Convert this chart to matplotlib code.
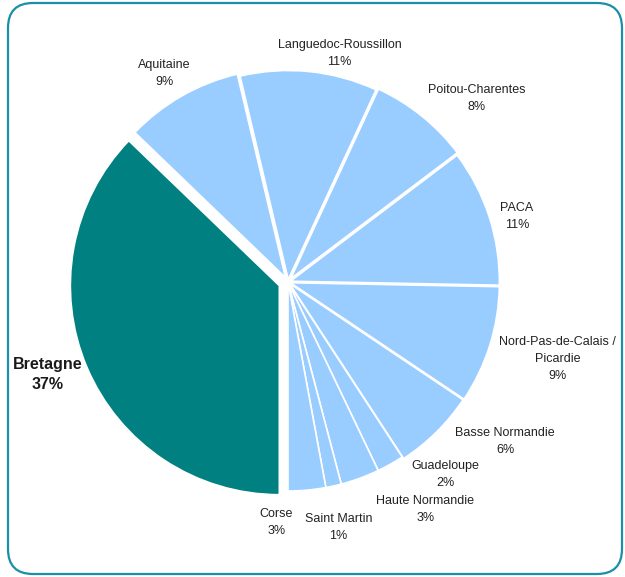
import numpy as np
import matplotlib.pyplot as plt
from matplotlib.patches import FancyBboxPatch

# donnees (ordre horaire depuis 6 heures)
regions = ['Bretagne', 'Aquitaine', 'Languedoc-Roussillon', 'Poitou-Charentes',
           'PACA', 'Nord-Pas-de-Calais /\nPicardie', 'Basse Normandie',
           'Guadeloupe', 'Haute Normandie', 'Saint Martin', 'Corse']
parts = [37.2, 9.1, 10.6, 7.8, 10.6, 9.1, 6.4, 2.1, 3.0, 1.2, 2.9]
labels_pct = ['37%', '9%', '11%', '8%', '11%', '9%', '6%', '2%', '3%', '1%', '3%']

# mise en page des etiquettes: (decalage d'angle en degres, rayon)
label_layout = [(2, 1.23), (-1, 1.16), (7, 1.12), (7, 1.26), (2, 1.14),
                (-1.5, 1.34), (-9, 1.29), (-10, 1.19), (-11, 1.27),
                (1, 1.2), (8, 1.15)]
explode = [0.045, 0.025, 0.012, 0.02, 0.012, 0.012, 0.01, 0.0, 0.0, 0.0, 0.0]

plt.rcParams['font.family'] = ['Liberation Sans', 'DejaVu Sans']

fig = plt.figure(figsize=(6.25, 5.77), dpi=100)
ax = fig.add_axes([0, 0, 1, 1])

colors = ['#008080'] + ['#99CCFF'] * (len(parts) - 1)
wedges, _ = ax.pie(parts, colors=colors, startangle=-90, counterclock=False,
                   explode=explode,
                   wedgeprops=dict(edgecolor='white', linewidth=1.2))

# etiquettes
total = sum(parts)
start = 180.0
for i, (name, p) in enumerate(zip(regions, parts)):
    span = p / total * 360
    mid = start + span / 2
    start += span
    da, r = label_layout[i]
    a = np.radians(mid + da)
    x, y = r * np.sin(a), r * np.cos(a)
    if i == 0:
        ax.text(x, y, name + '\n' + labels_pct[i], ha='center', va='center',
                fontsize=11.5, fontweight='bold', color='#1a1a1a', linespacing=1.4)
    else:
        ax.text(x, y, name + '\n' + labels_pct[i], ha='center', va='center',
                fontsize=9, color='#222222', linespacing=1.55)

# axes: centre a (288, 282) px, rayon 209 px
ax.set_xlim(-288 / 209, (625 - 288) / 209)
ax.set_ylim(-(577 - 282) / 209, 282 / 209)
ax.set_aspect('auto')
ax.axis('off')

# cadre arrondi
frame = FancyBboxPatch((8 / 625, 3 / 577), 614 / 625, 571 / 577,
                       boxstyle='round,pad=0,rounding_size=0.04',
                       transform=fig.transFigure, fill=False,
                       edgecolor='#1a8fa6', linewidth=1.6, mutation_aspect=625 / 577)
fig.patches.append(frame)

fig.savefig('out.png', dpi=100)
